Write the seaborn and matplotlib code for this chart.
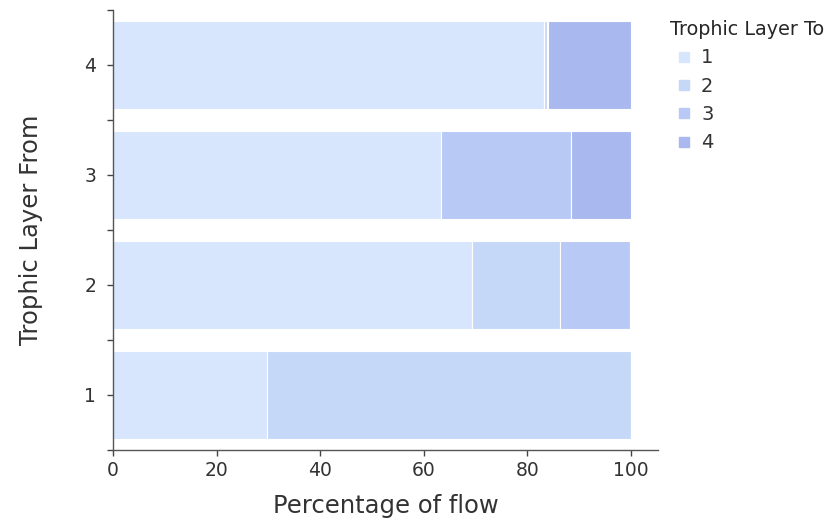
import pandas as pd
import numpy as np
import matplotlib
matplotlib.use("Agg")
import matplotlib.pyplot as plt
from matplotlib.lines import Line2D
from matplotlib.ticker import MultipleLocator
import seaborn as sns

# share of flow leaving each trophic layer, split by destination layer
layer_from = [1, 2, 3, 4]
to_1 = [29.7, 69.3, 63.4, 83.3]
to_2 = [70.3, 17.1, 0.0, 0.5]
to_3 = [0.0, 13.5, 25.1, 0.3]
to_4 = [0.0, 0.1, 11.5, 15.9]
layer_to = [1, 2, 3, 4]
colors = ["#d7e6fd", "#c6d8f8", "#b8c9f5", "#a9b8ef"]

rows = []
for i, src in enumerate(layer_from):
    for lvl, vals in zip(layer_to, [to_1, to_2, to_3, to_4]):
        rows.append({"from": src, "to": lvl, "pct": vals[i]})
df = pd.DataFrame(rows)

sns.set_style("ticks")
plt.rcParams["font.family"] = ["DejaVu Sans"]

fig = plt.figure(figsize=(8.36, 5.19), dpi=100)
ax = fig.add_axes([0.1352, 0.133, 0.652, 0.848])

pal = dict(zip(layer_to, colors))
sns.histplot(data=df, y="from", weights="pct", hue="to", hue_order=layer_to[::-1],
             multiple="stack", discrete=True, shrink=0.8, palette=pal,
             alpha=1, edgecolor="white", linewidth=0.8, legend=False, ax=ax)

ax.set_xlim(0, 105.3)
ax.set_ylim(0.5, 4.5)
ax.set_yticks(layer_from)
ax.yaxis.set_minor_locator(MultipleLocator(1, offset=0.5))
ax.set_xticks([0, 20, 40, 60, 80, 100])
ax.tick_params(axis="both", which="both", length=4, width=1, color="#444444",
               labelsize=13.5, labelcolor="#333333", pad=4)
ax.tick_params(axis="y", pad=8)
for s in ["top", "right"]:
    ax.spines[s].set_visible(False)
for s in ["left", "bottom"]:
    ax.spines[s].set_color("#555555")
    ax.spines[s].set_linewidth(1)
ax.set_xlabel("Percentage of flow", fontsize=17.5, color="#333333", labelpad=10)
ax.set_ylabel("Trophic Layer From", fontsize=17.5, color="#333333", labelpad=30)

handles = [Line2D([], [], marker="s", linestyle="none", markersize=7,
                  markerfacecolor=c, markeredgecolor=c) for c in colors]
fig.legend(handles, [str(t) for t in layer_to], title="Trophic Layer To",
           loc="upper left", bbox_to_anchor=(0.7805, 0.995), frameon=False,
           fontsize=14, title_fontsize=13.8, alignment="left",
           handletextpad=0.2, labelspacing=0.48, handlelength=1.4,
           labelcolor="#333333", borderpad=0.4)

fig.savefig("out.png", dpi=100)
